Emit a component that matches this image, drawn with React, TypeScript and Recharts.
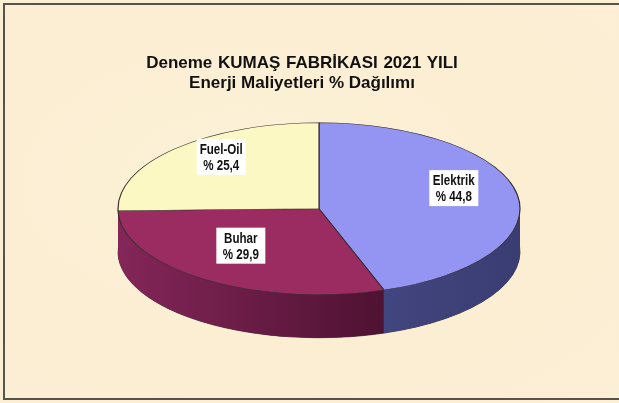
import { PieChart, Pie, Cell } from 'recharts';

const names = ['Elektrik', 'Buhar', 'Fuel-Oil'];
const shares = [44.8, 29.9, 25.4];
const topColors = ['#9494f2', '#9a2c62', '#fbf8c4'];
const sideGradients = [
  ['#464a84', '#3a3d72'],
  ['#842659', '#4e1232'],
  ['#d8d49a', '#b8b47a'],
];

const data = names.map((name, i) => ({ name, value: shares[i] }));

// pie is drawn as a circle and squashed vertically to look like the 3D ellipse
const R = 201;
const SQUASH = 86 / 201;
const DEPTH = 43 / SQUASH;
const CX = 205;
const CY = 205;
const layers: number[] = [];
for (let d = DEPTH; d > 0; d -= 2) layers.push(d);

const RADIAN = Math.PI / 180;
const labelFont = "'Liberation Sans', Arial, sans-serif";

function SliceLabel(props: any) {
  const { cx, cy, midAngle, index } = props;
  const r = R * 0.68;
  const x = cx + r * Math.cos(-midAngle * RADIAN);
  const y = cy + r * Math.sin(-midAngle * RADIAN) - 11 / SQUASH;
  return (
    <g transform={`translate(${x},${y}) scale(1,${1 / SQUASH})`}>
      <rect x={-24.5} y={-18} width={49} height={36} fill="#ffffff" />
      <g transform="scale(0.8,1)">
        <text
          x={0}
          y={-3}
          textAnchor="middle"
          fontFamily={labelFont}
          fontWeight="bold"
          fontSize={14.5}
          fill="#111"
        >
          {names[index]}
        </text>
        <text
          x={0}
          y={13}
          textAnchor="middle"
          fontFamily={labelFont}
          fontWeight="bold"
          fontSize={14.5}
          fill="#111"
        >
          {'% ' + shares[index].toFixed(1).replace('.', ',')}
        </text>
      </g>
    </g>
  );
}

export default function App() {
  return (
    <div
      style={{
        position: 'fixed',
        left: 0,
        top: 0,
        width: 619,
        height: 403,
        overflow: 'hidden',
        background:
          'radial-gradient(ellipse at 40% 45%, #fcf0d6 0%, #fbeed3 60%, #fbefd6 100%)',
      }}
    >
      <div
        style={{
          position: 'absolute',
          left: 3,
          top: 3,
          width: 630,
          height: 393,
          border: '2px solid #57534a',
        }}
      />
      <div
        style={{
          position: 'absolute',
          left: 0,
          top: 53,
          width: 604,
          textAlign: 'center',
          fontFamily: "'Liberation Sans', Arial, sans-serif",
          fontWeight: 'bold',
          fontSize: 17,
          lineHeight: '20px',
          color: '#111',
        }}
      >
        <div style={{ wordSpacing: 1 }}>Deneme KUMAŞ FABRİKASI 2021 YILI</div>
        <div>Enerji Maliyetleri % Dağılımı</div>
      </div>
      <div
        style={{
          position: 'absolute',
          left: 319 - CX,
          top: 209 - CY * SQUASH,
          transform: `scaleY(${SQUASH})`,
          transformOrigin: '0 0',
        }}
      >
        <PieChart
          width={CX * 2}
          height={CY * 2 + DEPTH + 4}
          margin={{ top: 0, right: 0, bottom: 0, left: 0 }}
        >
          <defs>
            {sideGradients.map((g, i) => (
              <linearGradient key={i} id={`side${i}`} x1="0" y1="0" x2="1" y2="0">
                <stop offset="0%" stopColor={g[0]} />
                <stop offset="100%" stopColor={g[1]} />
              </linearGradient>
            ))}
          </defs>
          <Pie
            data={data}
            dataKey="value"
            cx={CX}
            cy={CY + DEPTH}
            outerRadius={R}
            startAngle={90}
            endAngle={-270}
            stroke="#2a2020"
            strokeWidth={1}
            isAnimationActive={false}
          >
            {data.map((_, i) => (
              <Cell key={i} fill={`url(#side${i})`} />
            ))}
          </Pie>
          {layers.map((d) => (
            <Pie
              key={d}
              data={data}
              dataKey="value"
              cx={CX}
              cy={CY + d}
              outerRadius={R}
              startAngle={90}
              endAngle={-270}
              stroke="none"
              isAnimationActive={false}
            >
              {data.map((_, i) => (
                <Cell key={i} fill={`url(#side${i})`} />
              ))}
            </Pie>
          ))}
          <Pie
            data={data}
            dataKey="value"
            cx={CX}
            cy={CY}
            outerRadius={R}
            startAngle={90}
            endAngle={-270}
            stroke="#3a3030"
            strokeWidth={1.2}
            labelLine={false}
            label={SliceLabel}
            isAnimationActive={false}
          >
            {data.map((_, i) => (
              <Cell key={i} fill={topColors[i]} />
            ))}
          </Pie>
        </PieChart>
      </div>
    </div>
  );
}
